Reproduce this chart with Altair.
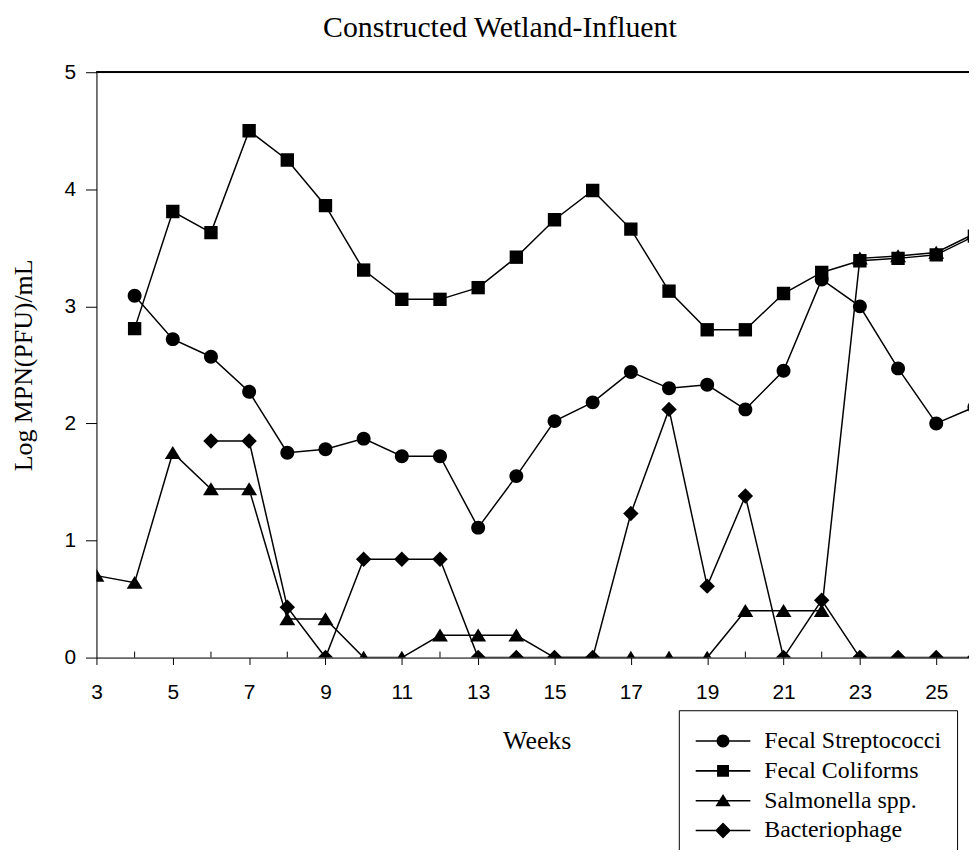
import altair as alt
import pandas as pd

# ---- data ----
series_names = ["Fecal Streptococci", "Fecal Coliforms", "Salmonella spp.", "Bacteriophage"]

strep_weeks = list(range(4, 27))
strep = [3.09, 2.72, 2.57, 2.27, 1.75, 1.78, 1.87, 1.72, 1.72, 1.11, 1.55, 2.02,
         2.18, 2.44, 2.30, 2.33, 2.12, 2.45, 3.23, 3.00, 2.47, 2.00, 2.14]

coli_weeks = list(range(4, 27))
coli = [2.81, 3.81, 3.63, 4.50, 4.25, 3.86, 3.31, 3.06, 3.06, 3.16, 3.42, 3.74,
        3.99, 3.66, 3.13, 2.80, 2.80, 3.11, 3.29, 3.39, 3.41, 3.44, 3.60]

salm_weeks = list(range(3, 27))
salm = [0.70, 0.64, 1.75, 1.44, 1.44, 0.33, 0.33, 0.0, 0.0, 0.19, 0.19, 0.19,
        0.0, 0.0, 0.0, 0.0, 0.0, 0.40, 0.40, 0.40, 3.41, 3.43, 3.46, 3.62]

phage_weeks = list(range(6, 27))
phage = [1.85, 1.85, 0.43, 0.0, 0.84, 0.84, 0.84, 0.0, 0.0, 0.0, 0.0, 1.23,
         2.12, 0.61, 1.38, 0.0, 0.49, 0.0, 0.0, 0.0, 0.0]

label_weeks = list(range(3, 26, 2))
minor_weeks = list(range(4, 25, 2))
y_ticks = [0, 1, 2, 3, 4, 5]

# ---- build tables (draw order: Salmonella, Coliforms, Streptococci, Bacteriophage) ----
rows = []
for name, wk, vals in [("Salmonella spp.", salm_weeks, salm),
                       ("Fecal Coliforms", coli_weeks, coli),
                       ("Fecal Streptococci", strep_weeks, strep),
                       ("Bacteriophage", phage_weeks, phage)]:
    for w, v in zip(wk, vals):
        rows.append({"week": w, "value": v, "series": name})
df = pd.DataFrame(rows)
minor_df = pd.DataFrame({"week": minor_weeks})

W, H = 878, 589
x_end = 3 + W / 38.41

point_shapes = [
    "M0.875,0A0.875,0.875,0,1,1,-0.875,0A0.875,0.875,0,1,1,0.875,0Z",
    "M-0.84,-0.84H0.84V0.84H-0.84Z",
    "M0,-0.85L1,0.78L-1,0.78Z",
    "M0,-0.97L0.97,0L0,0.97L-0.97,0Z",
]
# legend symbols: a thin filled bar (the line) plus the marker, all clockwise
bar = "M-1,-0.028H1V0.028H-1Z"
legend_shapes = [
    bar + "M0.236,0A0.236,0.236,0,1,1,-0.236,0A0.236,0.236,0,1,1,0.236,0Z",
    bar + "M-0.218,-0.218H0.218V0.218H-0.218Z",
    bar + "M0,-0.24L0.28,0.2L-0.28,0.2Z",
    bar + "M0,-0.29L0.29,0L0,0.29L-0.29,0Z",
]

xscale = alt.Scale(domain=[3, x_end], nice=False, zero=False)
yscale = alt.Scale(domain=[0, 5], nice=False)

x_axis = alt.Axis(values=label_weeks, grid=False, tickSize=7, tickColor="black",
                  domainColor="black", labelFont="Liberation Sans", labelFontSize=21,
                  labelColor="black", labelPadding=17, labelFlush=False,
                  title="Weeks", titleFont="Liberation Serif", titleFontSize=26,
                  titleFontWeight="normal", titleColor="black", titleY=83, titleX=443,
                  titleBaseline="middle", titleAlign="center")
y_axis = alt.Axis(values=y_ticks, grid=False, tickSize=11, tickColor="black",
                  domainColor="black", labelFont="Liberation Sans", labelFontSize=21,
                  labelColor="black", labelPadding=10, format="d",
                  title="Log MPN(PFU)/mL", titleFont="Liberation Serif", titleFontSize=26,
                  titleFontWeight="normal", titleColor="black", titleX=-73,
                  titleBaseline="middle", titleAlign="center")

base = alt.Chart(df)

lines = base.mark_line(color="black", strokeWidth=1.5, clip=True).encode(
    x=alt.X("week:Q", scale=xscale, axis=x_axis),
    y=alt.Y("value:Q", scale=yscale, axis=y_axis),
    detail="series:N",
)

points = base.mark_point(filled=True, color="black", opacity=1, size=256, clip=True).encode(
    x=alt.X("week:Q", scale=xscale),
    y=alt.Y("value:Q", scale=yscale),
    shape=alt.Shape("series:N", scale=alt.Scale(domain=series_names, range=point_shapes), legend=None),
)

legend_layer = base.mark_point(filled=True, color="black", size=3025, clip=True).encode(
    x=alt.value(-2000),
    y=alt.value(-2000),
    shape=alt.Shape("series:N",
                    scale=alt.Scale(domain=series_names, range=legend_shapes),
                    legend=alt.Legend(title=None, orient="none", legendX=586, legendY=642,
                                      direction="vertical", padding=16,
                                      strokeColor="black", fillColor="white",
                                      symbolSize=3025, clipHeight=30, rowPadding=0,
                                      symbolFillColor="black", symbolOpacity=1,
                                      labelFont="Liberation Serif", labelFontSize=24,
                                      labelColor="black", labelOffset=13, labelLimit=400)),
)

minor_ticks = alt.Chart(minor_df).mark_rule(color="black", strokeWidth=1).encode(
    x=alt.X("week:Q", scale=xscale),
    y=alt.value(H),
    y2=alt.value(H - 6),
)

top_line = alt.Chart(minor_df).mark_rule(color="black", strokeWidth=1).encode(
    x=alt.value(0), x2=alt.value(W), y=alt.value(0)
)

chart = alt.layer(top_line, minor_ticks, lines, points, legend_layer).resolve_scale(
    shape="independent"
).properties(
    width=W, height=H,
    autosize=alt.AutoSizeParams(type="none"),
    padding={"left": 89, "top": 62, "right": 0, "bottom": 191},
    title=alt.TitleParams("Constructed Wetland-Influent", anchor="start", frame="group",
                          dx=228, dy=26, offset=20, baseline="alphabetic",
                          font="Liberation Serif", fontSize=30, fontWeight="normal",
                          color="black"),
).configure_view(stroke=None).configure(background="white")

chart.save("out.html", embed_options={"renderer": "svg", "actions": False})
